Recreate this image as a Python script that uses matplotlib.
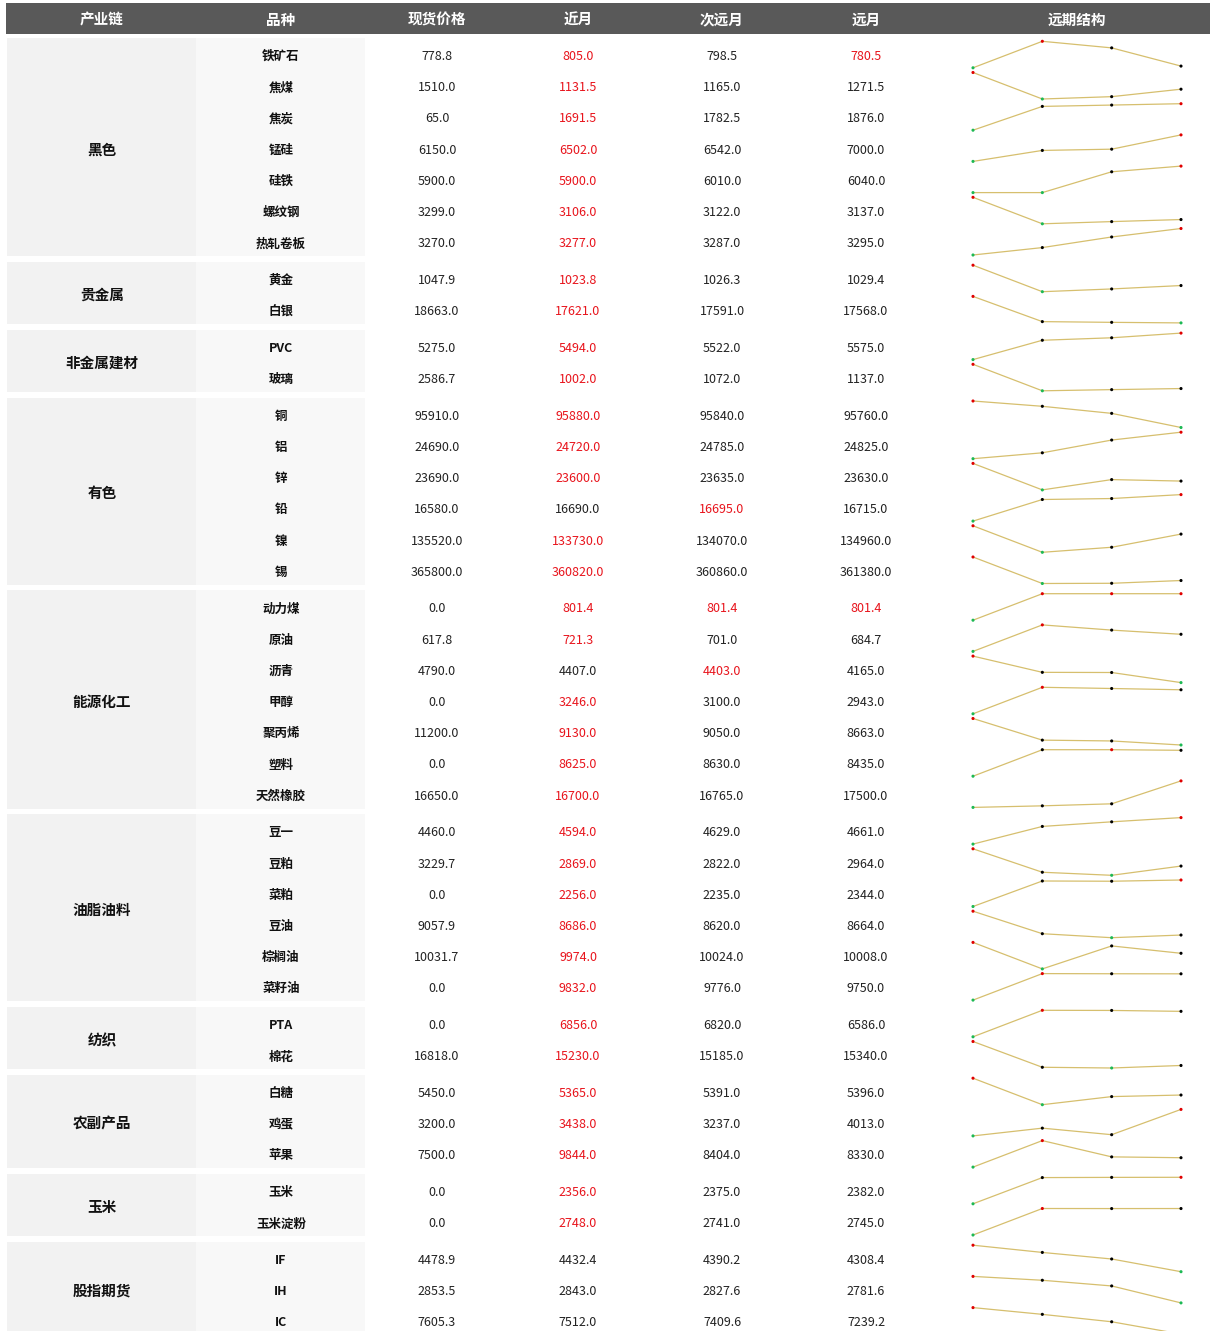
import numpy as np
import matplotlib
matplotlib.use("Agg")
import matplotlib.pyplot as plt
from matplotlib.patches import Rectangle

plt.rcParams["font.family"] = ["Noto Sans CJK SC", "DejaVu Sans"]

headers = ["产业链", "品种", "现货价格", "近月", "次远月", "远月", "远期结构"]

groups = ["黑色", "贵金属", "非金属建材", "有色", "能源化工",
          "油脂油料", "纺织", "农副产品", "玉米", "股指期货"]
group_sizes = [7, 2, 2, 6, 7, 6, 2, 3, 2, 3]

varieties = ["铁矿石", "焦煤", "焦炭", "锰硅", "硅铁", "螺纹钢", "热轧卷板",
             "黄金", "白银",
             "PVC", "玻璃",
             "铜", "铝", "锌", "铅", "镍", "锡",
             "动力煤", "原油", "沥青", "甲醇", "聚丙烯", "塑料", "天然橡胶",
             "豆一", "豆粕", "菜粕", "豆油", "棕榈油", "菜籽油",
             "PTA", "棉花",
             "白糖", "鸡蛋", "苹果",
             "玉米", "玉米淀粉",
             "IF", "IH", "IC"]

spot = [778.8, 1510.0, 65.0, 6150.0, 5900.0, 3299.0, 3270.0,
        1047.9, 18663.0,
        5275.0, 2586.7,
        95910.0, 24690.0, 23690.0, 16580.0, 135520.0, 365800.0,
        0.0, 617.8, 4790.0, 0.0, 11200.0, 0.0, 16650.0,
        4460.0, 3229.7, 0.0, 9057.9, 10031.7, 0.0,
        0.0, 16818.0,
        5450.0, 3200.0, 7500.0,
        0.0, 0.0,
        4478.9, 2853.5, 7605.3]

near = [805.0, 1131.5, 1691.5, 6502.0, 5900.0, 3106.0, 3277.0,
        1023.8, 17621.0,
        5494.0, 1002.0,
        95880.0, 24720.0, 23600.0, 16690.0, 133730.0, 360820.0,
        801.4, 721.3, 4407.0, 3246.0, 9130.0, 8625.0, 16700.0,
        4594.0, 2869.0, 2256.0, 8686.0, 9974.0, 9832.0,
        6856.0, 15230.0,
        5365.0, 3438.0, 9844.0,
        2356.0, 2748.0,
        4432.4, 2843.0, 7512.0]

second = [798.5, 1165.0, 1782.5, 6542.0, 6010.0, 3122.0, 3287.0,
          1026.3, 17591.0,
          5522.0, 1072.0,
          95840.0, 24785.0, 23635.0, 16695.0, 134070.0, 360860.0,
          801.4, 701.0, 4403.0, 3100.0, 9050.0, 8630.0, 16765.0,
          4629.0, 2822.0, 2235.0, 8620.0, 10024.0, 9776.0,
          6820.0, 15185.0,
          5391.0, 3237.0, 8404.0,
          2375.0, 2741.0,
          4390.2, 2827.6, 7409.6]

far = [780.5, 1271.5, 1876.0, 7000.0, 6040.0, 3137.0, 3295.0,
       1029.4, 17568.0,
       5575.0, 1137.0,
       95760.0, 24825.0, 23630.0, 16715.0, 134960.0, 361380.0,
       801.4, 684.7, 4165.0, 2943.0, 8663.0, 8435.0, 17500.0,
       4661.0, 2964.0, 2344.0, 8664.0, 10008.0, 9750.0,
       6586.0, 15340.0,
       5396.0, 4013.0, 8330.0,
       2382.0, 2745.0,
       4308.4, 2781.6, 7239.2]

# contracts shown in red (main contract): 1 = near, 2 = second, 3 = far
main_contract = ["13", "1", "1", "1", "1", "1", "1",
                 "1", "1",
                 "1", "1",
                 "1", "1", "1", "2", "1", "1",
                 "123", "1", "2", "1", "1", "1", "1",
                 "1", "1", "1", "1", "1", "1",
                 "1", "1",
                 "1", "1", "1",
                 "1", "1",
                 "", "", ""]

W, H = 1210, 1331
fig = plt.figure(figsize=(W / 100, H / 100), dpi=100)
ax = fig.add_axes([0, 0, 1, 1])
ax.set_xlim(0, W)
ax.set_ylim(H, 0)
ax.axis("off")

col_x = [102, 281, 437, 578, 722, 866, 1077]
row_h = 31.2
gap = 5.5
top = 38

# header band
ax.add_patch(Rectangle((6, 3), W - 6, 31, color="#595959", lw=0))
for x, t in zip(col_x, headers):
    ax.text(x, 19.5, t, color="white", fontsize=10.5, fontweight="bold",
            ha="center", va="center")

spark_x0, spark_x1 = 973, 1181
line_col = "#d6bf6e"

idx = 0
y = top
for g, n in zip(groups, group_sizes):
    block_h = n * row_h
    ax.add_patch(Rectangle((7, y), 189, block_h, color="#f2f2f2", lw=0))
    ax.add_patch(Rectangle((196, y), 169, block_h, color="#f8f8f8", lw=0))
    ax.text(col_x[0], y + block_h / 2 + 2, g, fontsize=10.5, fontweight="bold",
            ha="center", va="center", color="#111111")
    for k in range(n):
        cy = y + k * row_h + row_h / 2 + 1.5
        ty = cy + 1.5
        ax.text(col_x[1], ty, varieties[idx], fontsize=9, fontweight="bold",
                ha="center", va="center", color="#111111")
        vals = [spot[idx], near[idx], second[idx], far[idx]]
        for j, v in enumerate(vals):
            red = j > 0 and str(j) in main_contract[idx]
            ax.text(col_x[2 + j], ty, f"{v:.1f}", fontsize=9,
                    ha="center", va="center",
                    color="#e8141c" if red else "#222222")

        # forward structure sparkline
        b_top, b_bot = cy - 13.8, cy + 12.7
        sax = fig.add_axes([spark_x0 / W, 1 - b_bot / H,
                            (spark_x1 - spark_x0) / W, (b_bot - b_top) / H])
        sax.axis("off")
        vmin, vmax = min(vals), max(vals)
        sax.set_xlim(0, 3)
        if vmax > vmin:
            sax.set_ylim(vmin, vmax)
        sax.plot(range(4), vals, color=line_col, lw=0.9, clip_on=False)
        colors = ["#e00000" if v == vmax else "#1db954" if v == vmin else "black"
                  for v in vals]
        sax.scatter(range(4), vals, s=5, c=colors, zorder=3, clip_on=False,
                    linewidths=0)
        idx += 1
    y += block_h + gap

fig.savefig("out.png", dpi=100)
